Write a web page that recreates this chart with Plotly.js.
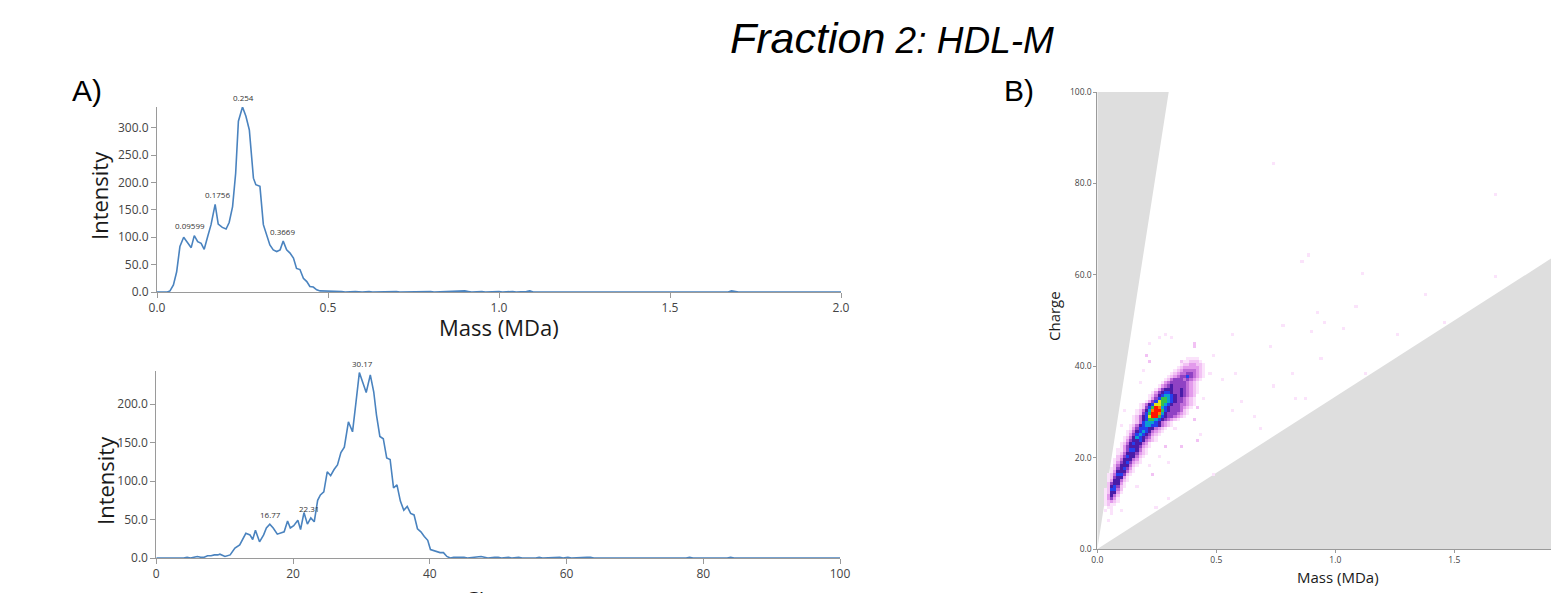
<!DOCTYPE html>
<html>
<head>
<meta charset="utf-8">
<script src="https://cdn.plot.ly/plotly-3.0.1.min.js"></script>
<style>html,body{margin:0;padding:0;background:#fff;overflow:hidden}#chart{width:1551px;height:593px}</style>
</head>
<body>
<div id="chart"></div>
<script>
// ---------- A) top: mass distribution ----------
const massAxis = [0,0.01,0.02,0.03,0.038,0.048,0.0575,0.067,0.078,0.089,0.1,0.109,0.119,0.129,0.138,0.148,0.158,0.17,0.179,0.191,0.202,0.211,0.221,0.23,0.238,0.25,0.26,0.27,0.282,0.289,0.301,0.311,0.321,0.33,0.34,0.35,0.36,0.369,0.379,0.389,0.399,0.408,0.418,0.428,0.438,0.447,0.457,0.467,0.477,0.487,0.497,
  0.51,0.52,0.53,0.54,0.55,0.58,0.6,0.62,0.63,0.66,0.67,0.7,0.71,0.76,0.77,0.8,0.81,0.84,0.85,0.87,0.88,0.89,0.9,0.91,0.92,0.95,0.96,1.0,1.01,1.04,1.05,1.08,1.09,1.1,1.25,1.26,1.27,1.38,1.39,1.4,1.46,1.47,1.48,1.67,1.68,1.69,1.7,2.0];
const massIntensity = [0,0,0,0,2,13,37,83,100,90,81,103,92,89,78,101,123,160,124,118,115,127,156,217,312,338,321,296,208,196,193,123,101,86,77,74,77,93,77,71,62,43,41,25,19,10,9,4,2,2,1,
  2,1,2,1,0,1,0,1,0,1,0,1,0,1,0,1,0,1,0,2,1,2,2,1,0,1,0,1,0,1,0,1,2,0,0,1,0,0,1,0,0,1,0,0,2,1,0,0];
const massPeakLabels = ["0.09599","0.1756","0.254","0.3669"];
const massPeakX = [0.09599,0.1756,0.254,0.3669];
const massPeakY = [104,160,338,93];

// ---------- A) bottom: charge distribution ----------
const chargeAxis = [0,1,2,3,4,4.5,5,5.5,6,6.5,7,7.5,8,8.5,9,9.3,10.05,10.8,11.5,12.2,13.1,13.7,14.1,14.5,15.1,15.7,16.1,16.6,17.1,17.7,18.2,18.7,19.2,19.6,20.1,20.7,21.1,21.6,22.1,22.6,23.1,23.6,24.0,24.5,25.0,25.5,26.0,26.5,27.0,27.5,28.1,28.7,29.2,29.7,30.2,30.7,31.3,31.8,32.2,32.7,33.2,33.7,34.2,34.7,35.2,35.7,36.2,36.7,37.2,37.7,38.2,38.7,39.2,39.7,40.1,40.8,41.5,42.0,42.5,43,
  43.5,44,44.5,45,45.5,46.5,47,47.5,48,48.5,49.5,50,50.5,51.5,52,53,53.5,55.5,56,56.5,59,59.5,60.2,60.7,63,63.5,64,77.5,78,78.5,83.5,84,84.5,100];
const chargeIntensity = [0,0,0,0,0,1,0,1,2,1,1,3,3,4,4,5,2,4,13,17,32,30,24,36,21,30,39,44,39,31,33,34,48,39,42,49,37,59,44,52,47,75,82,86,112,107,115,121,137,144,177,164,202,241,228,215,238,216,186,158,155,130,128,91,95,74,62,67,58,56,38,34,28,23,11,9,7,7,2,0,
  1,1,1,1,0,1,1,2,1,0,1,1,0,1,0,1,0,0,1,0,1,0,1,0,1,1,0,0,1,0,0,1,0,0];
const chargePeakLabels = ["16.77","22.31","30.17"];
const chargePeakX = [16.77,22.31,30.17];
const chargePeakY = [44,52,241];

// ---------- B) mass vs charge 2D histogram (levels 1..12) ----------
const mzLimits = [3000, 30000];           // m/z window (gray = outside)
const hmRowCharge = [8.33,9.0,9.67,10.33,11.0,11.67,12.33,13.0,13.67,14.33,15.0,15.67,16.33,17.0,17.67,18.33,19.0,19.67,20.33,21.0,21.67,22.33,23.0,23.67,24.33,25.0,25.67,26.33,27.0,27.67,28.33,29.0,29.67,30.33,31.0,31.67,32.33,33.0,33.67,34.33,35.0,35.67,36.33,37.0,37.67,38.33,39.0,39.67,40.33,41.0,41.67];
const hmRowMassStart = [0.0333,0.0467,0.0333,0.0333,0.0333,0.0333,0.0333,0.0333,0.0467,0.0467,0.0467,0.0467,0.0467,0.06,0.06,0.0733,0.0733,0.0733,0.0867,0.0867,0.0867,0.1,0.1,0.1133,0.1133,0.1267,0.1267,0.14,0.14,0.1533,0.1533,0.1533,0.1667,0.1667,0.18,0.18,0.2067,0.22,0.22,0.2333,0.2467,0.26,0.2733,0.2867,0.3,0.3133,0.3267,0.34,0.3533,0.3667,0.38];
const hmRowLevels = [
  [1,0,1],[1,1],[1,2,1,1],[1,2,3,2,1],[1,3,5,3,1],[1,3,6,4,2],[1,2,6,6,3,1],[1,2,7,7,4,2],
  [2,6,7,5,2,1],[2,5,6,6,3,1],[1,3,6,6,4,2,1],[1,2,5,6,6,3,1],[1,2,4,7,7,5,2,1],
  [1,3,6,6,6,4,2,1],[1,2,5,6,7,5,3,1],[2,4,6,6,6,4,2,1],[1,3,5,6,7,5,3,2,1],[1,2,4,6,6,6,4,3,1],
  [2,3,5,7,6,6,4,2,1],[1,2,4,6,6,6,5,3,2,1],[1,1,3,5,7,7,6,4,2,1],[1,3,5,6,6,6,5,3,2,1],
  [1,2,4,6,7,6,6,4,3,1],[1,3,5,6,6,7,6,4,3,2,1],[1,2,4,6,8,7,6,5,4,2,1],[1,3,5,7,8,7,6,5,3,2,1],
  [1,2,4,6,7,8,7,6,4,3,2,1],[1,3,5,7,7,7,6,6,4,3,2,1],[1,2,4,6,7,8,8,7,7,6,4,3,2,1],
  [1,2,4,7,8,8,8,7,6,4,3,2,1],[1,2,4,6,7,9,9,8,7,6,5,4,3,2,1],[1,2,4,6,7,10,12,12,9,7,6,5,5,4,3,2,1],
  [1,2,5,7,9,12,12,11,8,6,5,5,5,4,3,2,1],[1,2,4,6,8,11,12,12,9,7,6,5,5,5,4,2,1],
  [1,2,5,7,9,12,11,8,7,6,5,5,5,4,3,2,1],[1,2,4,6,7,10,10,9,8,7,6,5,5,4,4,3,2,1],
  [1,3,5,7,10,9,9,8,7,6,5,5,4,3,2,1],[1,3,5,7,9,9,8,7,6,5,5,4,3,2,1],[1,2,4,6,7,8,8,7,6,5,6,5,4,3,2],
  [1,3,5,6,7,7,6,5,5,6,5,4,3,2,1],[1,3,5,6,6,6,5,5,6,5,4,3,2,1],[1,3,4,5,6,5,5,5,5,4,3,2,1],
  [1,3,4,5,5,5,5,5,4,3,2,1],[1,2,4,5,5,5,4,5,4,3,2,1],[1,2,3,4,5,5,7,5,4,3,2,1],[1,2,3,4,4,5,5,4,3,2,1],
  [1,2,3,4,4,4,4,3,2,1],[1,2,3,3,3,3,3,2,1],[1,2,2,3,3,2,2,1],[1,1,2,2,2,1],[1,1,1,1]
];
const dotMass = [0.734,1.675,0.887,0.863,1.115,1.678,1.381,1.087,0.929,0.954,1.034,0.901,1.26,1.464,0.779,0.94,1.129,0.831,0.873,
  0.214,0.256,0.284,0.41,0.487,0.523,0.586,0.613,0.655,0.74,0.824,0.726,0.571,0.418,0.431,0.347,0.298,0.235,0.214,0.166,0.25,0.298,0.095,0.046,0.039,0.06,0.565,0.684,0.487,0.313,0.40,0.221,
  0.192,0.213,0.178,0.12,0.10,0.42,0.40,0.33,0.45,0.29,0.26,0.47,0.35];
const dotCharge = [84.6,77.6,64.3,63.0,60.3,59.7,55.7,53.0,51.7,49.7,48.4,47.7,47.1,49.7,49.1,41.7,38.4,33.2,33.2,
  40.9,46.4,47.1,44.6,42.4,36.9,38.4,32.6,28.9,35.5,38.4,44.2,47.1,23.8,25.3,22.4,19.1,16.5,18.4,13.6,9.2,11.1,8.5,6.3,10.0,7.4,30.4,26.0,16.5,46.4,45.0,45.0,
  39,42.3,36.4,30,27,31,28,26,33,22,20,38,41];
const dotLevel = [1,1,1,1,1,1,1,1,1,1,1,1,1,1,1,1,1,1,1,
  2,1,1,2,1,1,1,1,1,1,1,1,1,2,1,2,1,2,1,1,1,1,1,1,1,1,1,1,1,1,2,1,
  1,2,1,1,1,2,2,1,1,2,1,1,2];

// ---------- build ----------
const NB = 150, DM = 2 / NB, DC = 100 / NB;
const z = [];
for (let k = 0; k < NB; k++) z.push(new Array(NB).fill(null));
hmRowCharge.forEach((c, r) => {
  const k = Math.floor(c / DC);
  const j0 = Math.floor(hmRowMassStart[r] / DM);
  hmRowLevels[r].forEach((v, i) => { if (v > 0) z[k][j0 + i] = v; });
});
dotMass.forEach((m, i) => {
  const j = Math.floor(m / DM), k = Math.floor(dotCharge[i] / DC);
  if (z[k][j] == null) z[k][j] = dotLevel[i];
});

const W = 1551, H = 593;
const px = v => v / W, py = v => 1 - v / H;
const lineColor = '#4a83bf';
const axisCommon = {showgrid:false, zeroline:false, showline:true, linecolor:'#9a9a9a', linewidth:1,
  ticks:'outside', ticklen:5, tickcolor:'#9a9a9a', tickfont:{family:'Open Sans', size:12, color:'#444'}, fixedrange:true};
const axisSmall = Object.assign({}, axisCommon, {ticklen:3, tickfont:{family:'Open Sans', size:8.5, color:'#444'}});

const traces = [
  {type:'scatter', mode:'lines', x:massAxis, y:massIntensity, xaxis:'x', yaxis:'y',
   line:{color:lineColor, width:1.6}, hoverinfo:'skip'},
  {type:'scatter', mode:'lines', x:chargeAxis, y:chargeIntensity, xaxis:'x2', yaxis:'y2',
   line:{color:lineColor, width:1.6}, hoverinfo:'skip'},
  {type:'heatmap', z:z, x0:DM/2, dx:DM, y0:DC/2, dy:DC, xaxis:'x3', yaxis:'y3',
   zmin:0, zmax:12, showscale:false, hoverinfo:'skip',
   colorscale:[[0,'#ffffff'],[1/12,'#fbe3fb'],[2/12,'#f2c2f4'],[3/12,'#e39aec'],[4/12,'#c16ed9'],[5/12,'#8f42c4'],
     [6/12,'#4a1ca8'],[7/12,'#2440ee'],[8/12,'#0aa0d2'],[9/12,'#38c04a'],[10/12,'#e0e418'],[11/12,'#ff7a00'],[1,'#ff1400']]}
];

const xHi = (W - 1097.3) / 238;
const wedgeLeft = `M 0,0 L 0,100 L ${100*mzLimits[0]/1e6},100 Z`;
const wedgeRight = `M 0,0 L ${xHi+0.2},${(xHi+0.2)*1e6/mzLimits[1]} L ${xHi+0.2},0 Z`;

const annotations = [];
massPeakLabels.forEach((t, i) => annotations.push({xref:'x', yref:'y', x:massPeakX[i], y:massPeakY[i], text:t,
  showarrow:false, yanchor:'bottom', yshift:2, font:{family:'Open Sans', size:8, color:'#333'}}));
chargePeakLabels.forEach((t, i) => annotations.push({xref:'x2', yref:'y2', x:chargePeakX[i], y:chargePeakY[i], text:t,
  showarrow:false, yanchor:'bottom', yshift:2, font:{family:'Open Sans', size:8, color:'#333'}}));
const txt = (text, x, y, size, opts) => Object.assign({xref:'paper', yref:'paper', x:px(x), y:py(y), text:text,
  showarrow:false, xanchor:'center', yanchor:'middle', font:{family:'Open Sans', size:size, color:'#1a1a1a'}}, opts || {});
annotations.push(
  txt('<i>Fraction</i><i><span style="font-size:37px"> 2: HDL-M</span></i>', 728, 38, 43,
      {xanchor:'left', font:{family:'Liberation Sans', size:43, color:'#000'}}),
  txt('A)', 70, 91, 30, {xanchor:'left', font:{family:'Liberation Sans', size:30, color:'#000'}}),
  txt('B)', 1002, 91, 30, {xanchor:'left', font:{family:'Liberation Sans', size:30, color:'#000'}}),
  txt('Intensity', 99, 195, 22, {textangle:-90}),
  txt('Mass (MDa)', 499, 327, 22),
  txt('Intensity', 105, 481, 22, {textangle:-90}),
  txt('Charge', 501, 582, 22, {yanchor:'top'}),
  txt('Charge', 1054, 316, 15, {textangle:-90}),
  txt('Mass (MDa)', 1338, 577, 15)
);

const layout = {
  width:W, height:H, margin:{l:0, r:0, t:0, b:0}, paper_bgcolor:'#fff', plot_bgcolor:'#fff', showlegend:false,
  xaxis: Object.assign({}, axisCommon, {domain:[px(157), px(841)], range:[0,2], dtick:0.5, tickformat:'.1f', anchor:'y'}),
  yaxis: Object.assign({}, axisCommon, {domain:[py(292), py(107)], range:[0,338], dtick:50, tickformat:'.1f', anchor:'x'}),
  xaxis2: Object.assign({}, axisCommon, {domain:[px(156.3), px(840)], range:[0,100], dtick:20, tickformat:'d', anchor:'y2'}),
  yaxis2: Object.assign({}, axisCommon, {domain:[py(558), py(371)], range:[0,243], dtick:50, tickformat:'.1f', anchor:'x2'}),
  xaxis3: Object.assign({}, axisSmall, {domain:[px(1097.3), 1], range:[0,xHi], dtick:0.5, tickformat:'.1f', anchor:'y3'}),
  yaxis3: Object.assign({}, axisSmall, {domain:[py(549), py(92)], range:[0,100], dtick:20, tickformat:'.1f', anchor:'x3'}),
  shapes:[
    {type:'path', xref:'x3', yref:'y3', path:wedgeLeft, fillcolor:'#dedede', line:{width:0}, layer:'below'},
    {type:'path', xref:'x3', yref:'y3', path:wedgeRight, fillcolor:'#dedede', line:{width:0}, layer:'below'}
  ],
  annotations:annotations
};
Plotly.newPlot('chart', traces, layout, {displayModeBar:false, staticPlot:true});
</script>
</body>
</html>
